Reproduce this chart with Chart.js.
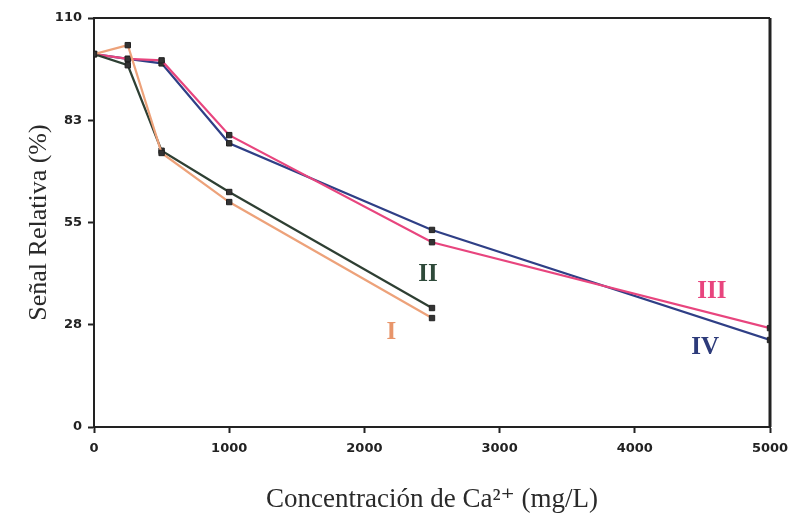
<!DOCTYPE html>
<html>
<head>
<meta charset="utf-8">
<script src="https://cdn.jsdelivr.net/npm/chart.js@4.4.1/dist/chart.umd.min.js"></script>
<style>
  html, body { margin: 0; padding: 0; background: #fff; }
  #wrap { width: 798px; height: 522px; }
</style>
</head>
<body>
<div id="wrap"><canvas id="calChart" width="798" height="522"></canvas></div>
<script>
/* data */
var concentraciones = [0, 250, 500, 1000, 2500, 5000]; // mg/L Ca2+
var serieI   = [100.3, 102.7, 73.7, 60.5, 29.3];
var serieII  = [100.3, 97.3, 74.3, 63.2, 32.0];
var serieIII = [100.3, 99.0, 98.6, 78.5, 49.7, 26.6];
var serieIV  = [100.3, 99.0, 97.8, 76.3, 53.0, 23.4];
var nombres  = ['I', 'II', 'III', 'IV'];
var xTicks   = [0, 1000, 2000, 3000, 4000, 5000];
var yTicks   = [0, 27.5, 55, 82.5, 110];

/* where the roman numeral labels sit (data units) */
var etiquetas = [
    { text: 'I',   x: 2200, y: 25.5, color: '#e8956a' },
    { text: 'II',  x: 2470, y: 41,   color: '#2f4a3a' },
    { text: 'III', x: 4570, y: 36.3, color: '#e8457e' },
    { text: 'IV',  x: 4520, y: 21.5, color: '#2d3b7a' }
];

function puntos(valores) {
    return valores.map(function (v, i) { return { x: concentraciones[i], y: v }; });
}

/* box around the plot + series labels */
const marco = {
    id: 'marco',
    afterDraw(chart) {
        const c = chart.ctx, a = chart.chartArea;
        c.save();
        c.strokeStyle = '#222';
        c.lineWidth = 2;
        c.beginPath();
        c.moveTo(a.left, a.top);
        c.lineTo(a.right, a.top);
        c.stroke();
        c.lineWidth = 3;
        c.beginPath();
        c.moveTo(a.right, a.top);
        c.lineTo(a.right, a.bottom);
        c.stroke();
        c.font = 'bold 25px "Liberation Serif", "DejaVu Serif", serif';
        c.textAlign = 'center';
        c.textBaseline = 'middle';
        const xs = chart.scales.x, ys = chart.scales.y;
        etiquetas.forEach(e => {
            c.fillStyle = e.color;
            c.fillText(e.text, xs.getPixelForValue(e.x), ys.getPixelForValue(e.y));
        });
        c.restore();
    }
};

function serie(nombre, datos, color) {
    return {
        label: nombre,
        data: puntos(datos),
        showLine: true,
        borderColor: color,
        borderWidth: 2.2,
        pointStyle: 'rect',
        pointRadius: 3.8,
        pointBackgroundColor: '#333',
        pointBorderColor: '#222',
        pointBorderWidth: 1
    };
}

const ctx = document.getElementById('calChart').getContext('2d');
const calChart = new Chart(ctx, {
    type: 'scatter',
    data: {
        datasets: [
            serie(nombres[0], serieI, '#eda27a'),
            serie(nombres[1], serieII, '#2e3f33'),
            serie(nombres[2], serieIII, '#e8457e'),
            serie(nombres[3], serieIV, '#2f3f86')
        ]
    },
    options: {
        responsive: false,
        animation: false,
        layout: { padding: { top: 18, right: 28, left: 0, bottom: 0 } },
        plugins: {
            legend: { display: false },
            tooltip: { enabled: false }
        },
        scales: {
            x: {
                type: 'linear',
                min: 0,
                max: 5000,
                afterFit: (s) => { s.height = 95; },
                afterBuildTicks: (s) => { s.ticks = xTicks.map(v => ({ value: v })); },
                border: { display: true, color: '#222', width: 2 },
                grid: { drawOnChartArea: false, drawTicks: true, tickLength: 6, color: '#222', tickWidth: 2 },
                ticks: {
                    color: '#222',
                    padding: 8,
                    maxRotation: 0,
                    callback: (v) => String(v),
                    font: { family: '"DejaVu Sans", sans-serif', weight: 'bold', size: 13 }
                },
                title: {
                    display: true,
                    text: 'Concentración de Ca²⁺ (mg/L)',
                    color: '#2a2a2a',
                    padding: { top: 8, bottom: 6 },
                    font: { family: '"Liberation Serif", "DejaVu Serif", serif', size: 27 }
                }
            },
            y: {
                type: 'linear',
                min: 0,
                max: 110,
                afterFit: (s) => { s.width = 94; },
                afterBuildTicks: (s) => { s.ticks = yTicks.map(v => ({ value: v })); },
                border: { display: true, color: '#222', width: 2 },
                grid: { drawOnChartArea: false, drawTicks: true, tickLength: 6, color: '#222', tickWidth: 2 },
                ticks: {
                    color: '#222',
                    padding: 6,
                    callback: (v) => Math.round(v),
                    font: { family: '"DejaVu Sans", sans-serif', weight: 'bold', size: 13 }
                },
                title: {
                    display: true,
                    text: 'Señal Relativa (%)',
                    color: '#2a2a2a',
                    padding: { top: 24, bottom: 0 },
                    font: { family: '"Liberation Serif", "DejaVu Serif", serif', size: 26 }
                }
            }
        }
    },
    plugins: [marco]
});
</script>
</body>
</html>
